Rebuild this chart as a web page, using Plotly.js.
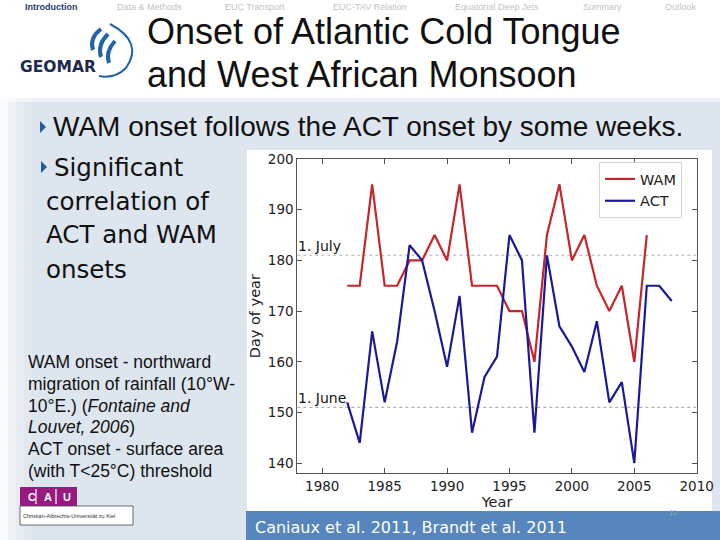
<!DOCTYPE html>
<html>
<head>
<meta charset="utf-8">
<script src="https://cdn.plot.ly/plotly-3.0.1.min.js"></script>
<style>html,body{margin:0;padding:0;background:#fff;}#chart{width:720px;height:540px;}</style>
</head>
<body>
<div id="chart"></div>
<script>
// ---- data ----
const wamYears = [1982,1983,1984,1985,1986,1987,1988,1989,1990,1991,1992,1993,1994,1995,1996,1997,1998,1999,2000,2001,2002,2003,2004,2005,2006];
const wamDays  = [175,175,195,175,175,180,180,185,180,195,175,175,175,170,170,160,185,195,180,185,175,170,175,160,185];
const actYears = [1982,1983,1984,1985,1986,1987,1988,1989,1990,1991,1992,1993,1994,1995,1996,1997,1998,1999,2000,2001,2002,2003,2004,2005,2006,2007,2008];
const actDays  = [152,144,166,152,164,183,180,170,159,173,146,157,161,185,180,146,181,167,163,158,168,152,156,140,175,175,172];
const seriesNames = ['WAM','ACT'];
const refDays   = [181,151];
const refLabels = ['1. July','1. June'];
const refSpan   = [1978,2010];
const xTicks = [1980,1985,1990,1995,2000,2005,2010];
const yTicks = [140,150,160,170,180,190,200];

const navItems = ['Introduction','Data & Methods','EUC Transport','EUC-TAV Relation','Equatorial Deep Jets','Summary','Outlook'];
const navX     = [51,149,255,370,497,602,681];

// ---- helpers (pixel -> paper) ----
const W = 720, H = 540;
const px = x => x / W, py = y => 1 - y / H;
const rect = (x0,y0,x1,y1,fill,extra) => Object.assign({type:'rect',xref:'paper',yref:'paper',x0:px(x0),x1:px(x1),y0:py(y1),y1:py(y0),fillcolor:fill,line:{width:0},layer:'below'}, extra||{});
const pth = s => s.replace(/(-?\d+\.?\d*),(-?\d+\.?\d*)/g,(m,a,b)=>px(+a)+','+py(+b));
const pathShape = (s,opt) => Object.assign({type:'path',xref:'paper',yref:'paper',path:pth(s),layer:'above'}, opt);
const txt = (x,y,text,opt) => Object.assign({xref:'paper',yref:'paper',x:px(x),y:py(y),text:text,showarrow:false,xanchor:'left',yanchor:'middle',borderpad:0}, opt);

const RED = '#c4262b', BLUE = '#1a1a99';
const SANS = 'Liberation Sans, Arial, sans-serif';
const DV = 'DejaVu Sans, Verdana, sans-serif';

const traces = [];
refDays.forEach((d,i)=>{
  traces.push({x:refSpan, y:[d,d], mode:'lines', line:{color:'#b0b0b0', width:1.1, dash:'dot'}, showlegend:false, hoverinfo:'skip'});
});
traces.push({x:wamYears, y:wamDays, name:seriesNames[0], mode:'lines', line:{color:RED, width:2.2}});
traces.push({x:actYears, y:actDays, name:seriesNames[1], mode:'lines', line:{color:BLUE, width:2.2}});

const shapes = [
  rect(0,98,720,540,'#dde5ee'),
  rect(0,98,720,102,'rgba(255,255,255,0.5)'),
  rect(0,98,8,540,'rgba(255,255,255,0.75)'),
  rect(8,98,16,540,'rgba(255,255,255,0.5)'),
  rect(16,98,24,540,'rgba(255,255,255,0.28)'),
  rect(24,98,32,540,'rgba(255,255,255,0.12)'),
  rect(247,150,712,512,'#ffffff'),
  rect(246,511,720,540,'#5686bd'),
  // CAU logo
  rect(20,487,77,506,'#98197f',{layer:'above'}),
  rect(20,506,133,525,'#ffffff',{layer:'above',line:{color:'#444',width:0.8}}),
  pathShape('M36,489 L36,504',{line:{color:'#fff',width:1.2}}),
  pathShape('M56,489 L56,504',{line:{color:'#fff',width:1.2}}),
  // bullets
  pathShape('M40,121 L46,127 L40,133 Z',{fillcolor:'#1f5c99',line:{width:0}}),
  pathShape('M41,161 L47,167 L41,173 Z',{fillcolor:'#1f5c99',line:{width:0}}),
  // GEOMAR swirl
  pathShape('M110,24 Q144,42 126,68 Q115,79 99,76',{line:{color:'#1f63a8',width:2}}),
  pathShape('M101,29 Q89,38 93,50',{line:{color:'#1f63a8',width:4}}),
  pathShape('M108,34 Q97,45 101,57',{line:{color:'#1f63a8',width:4}}),
  pathShape('M115,41 Q105,52 109,63',{line:{color:'#1f63a8',width:4}})
];

const annotations = [];
navItems.forEach((t,i)=>{
  annotations.push(txt(navX[i],7,i===0?'<b>'+t+'</b>':t,{xanchor:'center',font:{family:'Liberation Sans Narrow, Liberation Sans, Arial',size:9,color:i===0?'#1f3a6e':'#c3c3c3'}}));
});
annotations.push(txt(146,32,'Onset of Atlantic Cold Tongue',{font:{family:SANS,size:36,color:'#111'}}));
annotations.push(txt(146,74,'and West African Monsoon',{font:{family:SANS,size:36,color:'#111'}}));
annotations.push(txt(19,67,'<b>GEOMAR</b>',{font:{family:DV,size:15.5,color:'#1d2a4d'}}));
annotations.push(txt(52,127,'WAM onset follows the ACT onset by some weeks.',{font:{family:SANS,size:28,color:'#111'}}));
[['Significant',53,167],['correlation of',45,201],['ACT and WAM',45,235],['onsets',45,269]].forEach(l=>{
  annotations.push(txt(l[1],l[2],l[0],{font:{family:DV,size:24.5,color:'#111'}}));
});
[['WAM onset - northward',362],['migration of rainfall (10°W-',384],['10°E.) (<i>Fontaine and</i>',406],['<i>Louvet, 2006</i>)',427],['ACT onset - surface area',449],['(with T&lt;25°C) threshold',471]].forEach(l=>{
  annotations.push(txt(27,l[1],l[0],{font:{family:SANS,size:17.5,color:'#111'}}));
});
annotations.push(txt(27,497,'<b>C</b>',{font:{family:SANS,size:11,color:'#fff'}}));
annotations.push(txt(43,497,'<b>A</b>',{font:{family:SANS,size:11,color:'#fff'}}));
annotations.push(txt(62,497,'<b>U</b>',{font:{family:SANS,size:11,color:'#fff'}}));
annotations.push(txt(22,516,'Christian-Albrechts-Universität zu Kiel',{font:{family:SANS,size:5.5,color:'#333'}}));
annotations.push(txt(254,527,'Caniaux et al. 2011, Brandt et al. 2011',{font:{family:DV,size:16,color:'#ffffff'}}));
annotations.push(txt(668,512,'11',{font:{family:SANS,size:8,color:'#9aa'}}));
refDays.forEach((d,i)=>{
  annotations.push({xref:'x',yref:'y',x:refSpan[0],y:d,text:refLabels[i],showarrow:false,xanchor:'left',yanchor:'bottom',xshift:-1,yshift:-1,font:{family:DV,size:14,color:'#111'}});
});

const axisCommon = {showline:true, linecolor:'#555', linewidth:1, mirror:'ticks', ticks:'inside', ticklen:5, tickcolor:'#555', showgrid:false, zeroline:false, tickfont:{family:DV,size:13.5,color:'#222'}};

const layout = {
  width:W, height:H, margin:{l:0,r:0,t:0,b:0},
  paper_bgcolor:'#ffffff', plot_bgcolor:'rgba(0,0,0,0)',
  showlegend:true,
  xaxis: Object.assign({}, axisCommon, {domain:[297.3/W, 696.7/W], range:[1978,2010], tickvals:xTicks, ticktext:xTicks.map(String), title:{text:'Year', font:{family:DV,size:14.5,color:'#222'}, standoff:4}}),
  yaxis: Object.assign({}, axisCommon, {domain:[1-473.3/H, 1-159/H], range:[138,200], tickvals:yTicks, ticktext:yTicks.map(String), title:{text:'Day of year', font:{family:DV,size:14.5,color:'#222'}, standoff:3}}),
  legend:{x:px(599), y:py(162), xanchor:'left', yanchor:'top', bgcolor:'#ffffff', bordercolor:'#d4d4d4', borderwidth:1, font:{family:DV,size:14.5,color:'#222'}, itemwidth:30, tracegroupgap:0},
  shapes:shapes,
  annotations:annotations
};

Plotly.newPlot('chart', traces, layout, {staticPlot:true, displayModeBar:false});
</script>
</body>
</html>
